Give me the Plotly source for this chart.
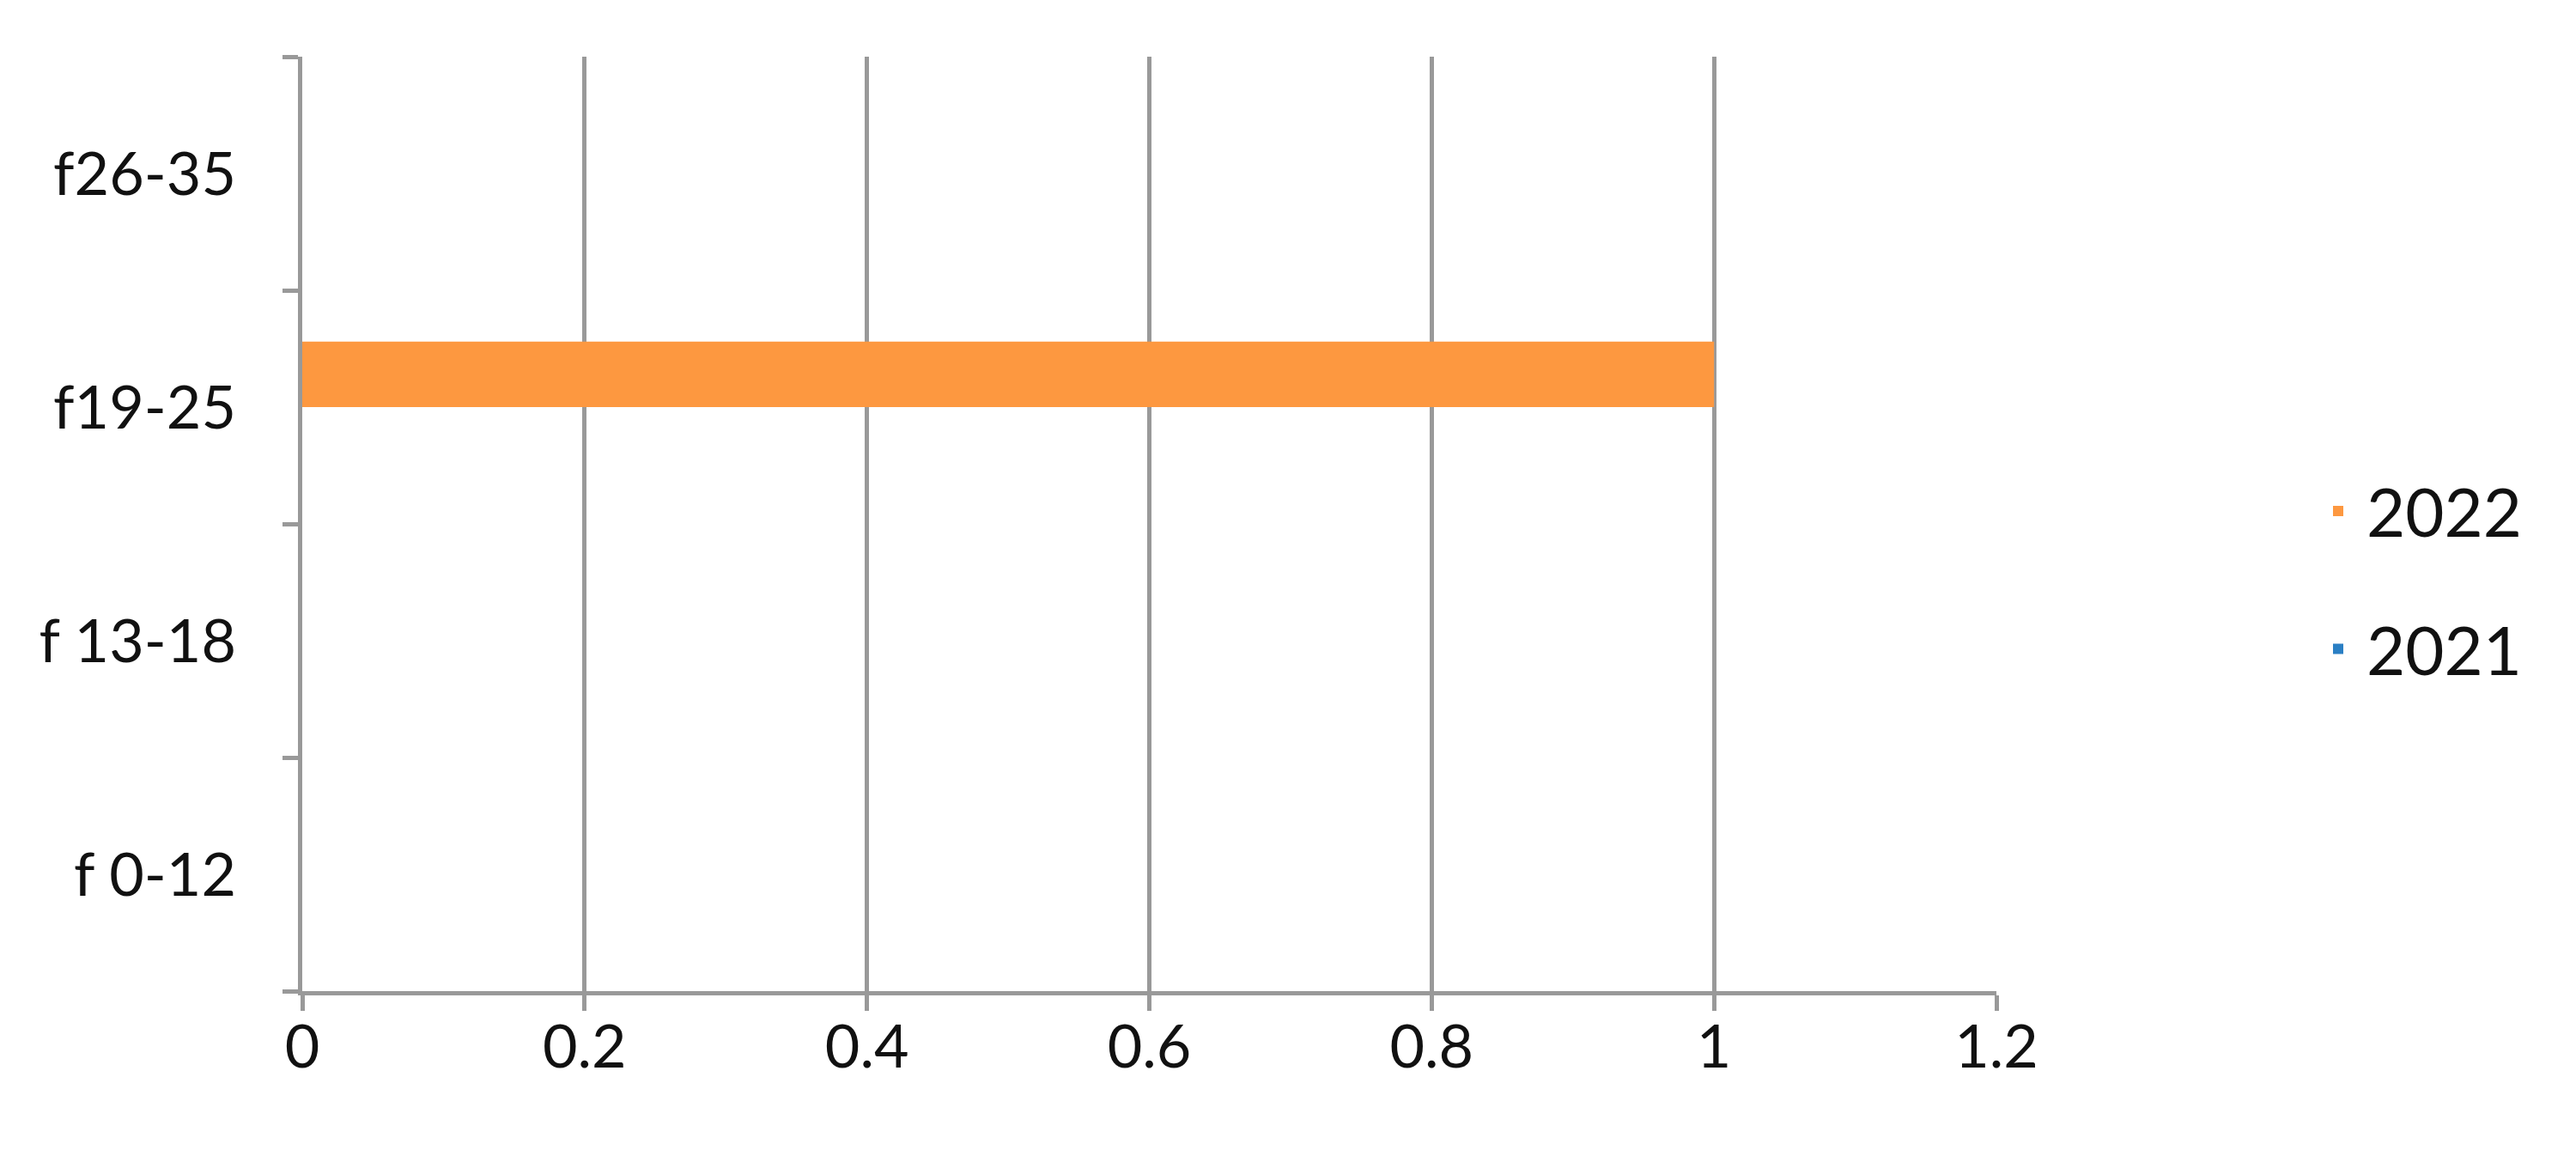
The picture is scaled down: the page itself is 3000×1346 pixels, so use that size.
import plotly.graph_objects as go

# age groups, bottom to top as drawn
categories = ["f 0-12", "f 13-18", "f19-25", "f26-35"]
values_2021 = [0, 0, 0, 0]
values_2022 = [0, 0, 1, 0]
x_ticks = [0, 0.2, 0.4, 0.6, 0.8, 1, 1.2]

GRID = "#999999"
FONT = "Lato"

fig = go.Figure()

# 2021 first so it sits below 2022 inside each group (Excel style)
fig.add_trace(go.Bar(
    y=categories,
    x=values_2021,
    name="2021",
    legendgroup="2021",
    legendrank=2,
    orientation="h",
    marker=dict(color="#2A7FC4", line=dict(width=0)),
))
fig.add_trace(go.Bar(
    y=categories,
    x=values_2022,
    name="2022",
    legendgroup="2022",
    legendrank=1,
    orientation="h",
    marker=dict(color="#FD9840", line=dict(width=0)),
))

fig.update_layout(
    width=3000,
    height=1346,
    barmode="group",
    bargap=0.44,
    bargroupgap=0,
    paper_bgcolor="white",
    plot_bgcolor="white",
    font=dict(family=FONT, size=70, color="#111111"),
    margin=dict(l=344, r=683, t=58, b=200),
    showlegend=True,
    legend=dict(
        traceorder="grouped",
        tracegroupgap=56,
        x=1.185,
        xanchor="left",
        y=0.44,
        yanchor="middle",
        font=dict(family=FONT, size=78),
        itemwidth=56,
        bgcolor="rgba(0,0,0,0)",
    ),
)

fig.update_xaxes(
    range=[0, 1.2],
    tickvals=x_ticks,
    ticktext=[str(t) for t in x_ticks],
    showgrid=True,
    gridcolor=GRID,
    gridwidth=5,
    zeroline=False,
    showline=True,
    linecolor=GRID,
    linewidth=5,
    ticks="outside",
    ticklen=18,
    tickwidth=5,
    tickcolor=GRID,
    ticklabelstandoff=-18,
)

fig.update_yaxes(
    categoryorder="array",
    categoryarray=categories,
    showgrid=False,
    zeroline=False,
    showline=True,
    linecolor=GRID,
    linewidth=5,
    ticks="outside",
    tickson="boundaries",
    ticklen=18,
    tickwidth=5,
    tickcolor=GRID,
    ticklabelstandoff=58,
)

fig.write_html("out.html")
